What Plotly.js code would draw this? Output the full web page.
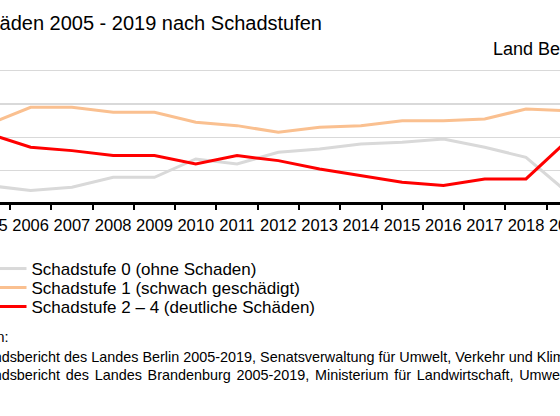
<!DOCTYPE html>
<html>
<head>
<meta charset="utf-8">
<script src="https://cdn.plot.ly/plotly-3.0.1.min.js"></script>
<style>
html,body{margin:0;padding:0;overflow:hidden;width:560px;height:416px;background:#fff}
#chart{position:absolute;left:-80px;top:0;width:720px;height:416px}
</style>
</head>
<body>
<div id="chart"></div>
<script>
// ---- data ----
const years = ['2005','2006','2007','2008','2009','2010','2011','2012','2013','2014','2015','2016','2017','2018','2019'];
const stufe0 = [11, 8, 10, 16, 16, 27, 24, 31, 33, 36, 37, 39, 34, 28, 7];
const stufe1 = [48, 58, 58, 55, 55, 49, 47, 43, 46, 47, 50, 50, 51, 57, 56];
const stufe24 = [42, 34, 32, 29, 29, 24, 29, 26, 21, 17, 13, 11, 15, 15, 38];
const seriesNames = ['Schadstufe 0 (ohne Schaden)', 'Schadstufe 1 (schwach geschädigt)', 'Schadstufe 2 – 4 (deutliche Schäden)'];
const titleText = 'Waldschäden 2005 - 2019 nach Schadstufen';
const regionText = 'Land Berlin';
const sourceHead = 'Quellen:';
const sourceLines = [
  'Waldzustandsbericht des Landes Berlin 2005-2019, Senatsverwaltung für Umwelt, Verkehr und Klimaschutz',
  'Waldzustandsbericht des Landes Brandenburg 2005-2019, Ministerium für Landwirtschaft, Umwelt und Klimaschutz'
];

// ---- geometry helpers (page px -> paper coords) ----
const W = 720, H = 416, OFF = 80, PT = 67, PB = 202;
function px(pageX){ return (pageX + OFF) / W; }
function py(pageY){ return (PB - pageY) / (PB - PT); }

const FONT = '"Liberation Sans", Arial, sans-serif';
const colors = ['#d9d9d9', '#fac090', '#ff0000'];
const series = [stufe0, stufe1, stufe24];
const legendIds = ['legend', 'legend2', 'legend3'];
const legendY = [269, 288, 307];

const traces = series.map((vals, i) => ({
  type: 'scatter', mode: 'lines', x: years, y: vals, name: seriesNames[i],
  line: {color: colors[i], width: 3}, legend: legendIds[i], hoverinfo: 'skip'
}));

const layout = {
  width: W, height: H,
  margin: {l: 0, r: 0, t: PT, b: H - PB, autoexpand: false},
  paper_bgcolor: '#fff', plot_bgcolor: '#fff',
  font: {family: FONT, color: '#000'},
  title: {text: titleText, font: {family: FONT, size: 20, color: '#000'},
          xref: 'paper', x: px(322), xanchor: 'right',
          yref: 'container', y: 1 - 23 / H, yanchor: 'middle'},
  xaxis: {type: 'category', range: [-1.68, 15.762], tickson: 'boundaries',
          ticks: 'outside', ticklen: 5, tickwidth: 2, tickcolor: '#000', tickangle: 0,
          ticklabelstandoff: 6,
          showline: true, linecolor: '#000', linewidth: 3, showgrid: false,
          tickfont: {family: FONT, size: 16.5, color: '#000'}, fixedrange: true},
  yaxis: {range: [1.14, 82.22], tick0: 0, dtick: 20, showgrid: true,
          gridcolor: '#d9d9d9', gridwidth: 1.3, zeroline: false,
          showticklabels: false, ticks: '', showline: false, fixedrange: true},
  showlegend: true,
  annotations: [
    {text: regionText, xref: 'paper', yref: 'paper', x: px(491), xanchor: 'left',
     y: py(48.5), yanchor: 'middle', showarrow: false,
     font: {family: FONT, size: 18, color: '#000'}},
    {text: sourceHead, xref: 'paper', yref: 'paper', x: px(10.8), xanchor: 'right',
     y: py(336.5), yanchor: 'middle', showarrow: false,
     font: {family: FONT, size: 14.4, color: '#000'}},
    {text: sourceLines[0], xref: 'paper', yref: 'paper', x: px(-75), xanchor: 'left',
     y: py(356.5), yanchor: 'middle', showarrow: false, align: 'left',
     font: {family: FONT, size: 14.4, color: '#000'}},
    {text: '<span style="word-spacing:1.7px">' + sourceLines[1] + '</span>',
     xref: 'paper', yref: 'paper', x: px(-75), xanchor: 'left',
     y: py(375), yanchor: 'middle', showarrow: false, align: 'left',
     font: {family: FONT, size: 14.4, color: '#000'}}
  ]
};
legendIds.forEach((id, i) => {
  layout[id] = {x: px(-8.5), xanchor: 'left', y: py(legendY[i]), yanchor: 'middle',
                bgcolor: 'rgba(0,0,0,0)', borderwidth: 0,
                font: {family: FONT, size: 17, color: '#000'}};
});

Plotly.newPlot('chart', traces, layout, {displayModeBar: false, staticPlot: true});
</script>
</body>
</html>
